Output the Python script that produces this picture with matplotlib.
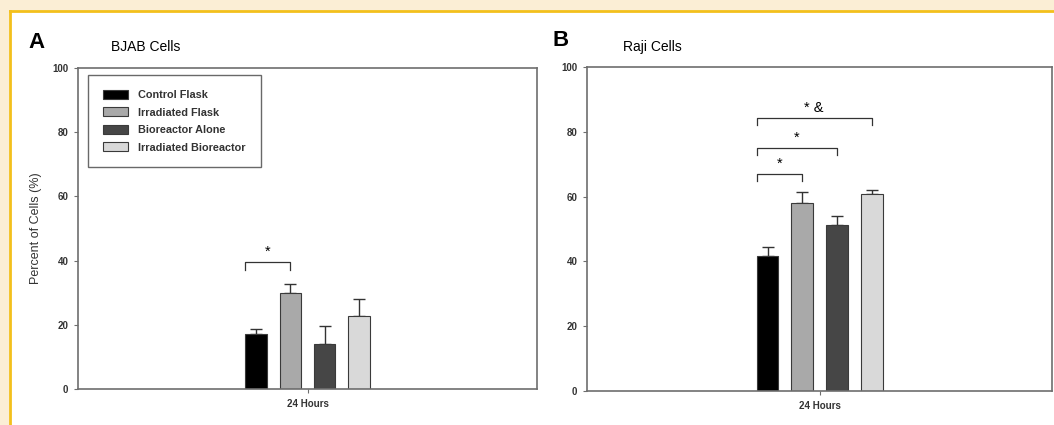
import numpy as np
import matplotlib
matplotlib.use("Agg")
import matplotlib.pyplot as plt
from matplotlib.patches import Rectangle
from matplotlib.lines import Line2D

plt.rcParams['font.family'] = ['Liberation Sans', 'DejaVu Sans']

# data
groups = ['Control Flask', 'Irradiated Flask', 'Bioreactor Alone', 'Irradiated Bioreactor']
colors = ['#000000', '#a9a9a9', '#464646', '#d9d9d9']
timepoint = ['24 Hours']
bjab_mean = [17.1, 30.0, 13.9, 22.7]
bjab_err = [1.6, 2.7, 5.7, 5.2]
raji_mean = [41.7, 57.9, 51.1, 60.8]
raji_err = [2.8, 3.5, 3.0, 1.2]

# significance brackets: (from bar, to bar, bracket top, text)
bjab_sig = [(0, 1, 39.5, '*')]
raji_sig = [(0, 1, 67.0, '*'), (0, 2, 75.0, '*'), (0, 3, 84.3, '* &')]

fig = plt.figure(figsize=(10.54, 4.25), dpi=100)
fig.patch.set_facecolor('white')

# journal frame: cream strip top and left with yellow rule
cream = '#fbeed5'
gold = '#f3c01c'
fig.patches.append(Rectangle((0, 1 - 11 / 425), 1, 11 / 425, transform=fig.transFigure,
                             facecolor=cream, edgecolor='none', zorder=0))
fig.patches.append(Rectangle((0, 0), 10 / 1054, 1, transform=fig.transFigure,
                             facecolor=cream, edgecolor='none', zorder=0))
fig.lines.append(Line2D([10 / 1054, 1], [1 - 11 / 425, 1 - 11 / 425], transform=fig.transFigure,
                        color=gold, lw=2))
fig.lines.append(Line2D([10 / 1054, 10 / 1054], [0, 1 - 11 / 425], transform=fig.transFigure,
                        color=gold, lw=2))

axA = fig.add_axes([0.074, 0.0847, 0.4355, 0.7553])
axB = fig.add_axes([0.557, 0.080, 0.4412, 0.7624])

pos = np.arange(4) - 1.5
width = 0.63


def draw_panel(ax, mean, err, sig):
    for i in range(4):
        ax.bar(pos[i], mean[i], width, color=colors[i], edgecolor='#3a3a3a', lw=0.8,
               label=groups[i], zorder=2)
        ax.errorbar(pos[i], mean[i], yerr=[[0], [err[i]]], fmt='none', ecolor='#333333',
                    elinewidth=1, capsize=4, capthick=1, zorder=1)
    for a, b, top, txt in sig:
        x0 = pos[a] - width / 2
        x1 = pos[b]
        ax.plot([x0, x0, x1, x1], [top - 2.3, top, top, top - 2.3], color='#333333', lw=0.9)
        ax.text((x0 + x1) / 2, top + 1.0, txt, ha='center', va='bottom', fontsize=10.5)
    ax.set_xlim(-6.7, 6.7)
    ax.set_ylim(0, 100)
    ax.set_yticks([0, 20, 40, 60, 80, 100])
    ax.set_xticks([0])
    ax.set_xticklabels(timepoint)
    for s in ax.spines.values():
        s.set_color('#6e6e6e')
        s.set_linewidth(1.2)
    ax.tick_params(axis='both', direction='out', length=3, width=0.8, color='#6e6e6e',
                   labelsize=7, pad=4)
    for lbl in ax.get_xticklabels() + ax.get_yticklabels():
        lbl.set_fontweight('bold')
        lbl.set_color('#333333')


draw_panel(axA, bjab_mean, bjab_err, bjab_sig)
draw_panel(axB, raji_mean, raji_err, raji_sig)

axA.set_ylabel('Percent of Cells (%)', fontsize=9, color='#333333', labelpad=7)

leg = axA.legend(loc='upper left', bbox_to_anchor=(0.022, 0.978), borderaxespad=0,
                 fontsize=7.8, frameon=True, fancybox=False, handlelength=2.3,
                 handleheight=0.9, labelspacing=0.68, borderpad=1.35, handletextpad=1.0)
leg.get_frame().set_edgecolor('#444444')
leg.get_frame().set_linewidth(1.0)
for t in leg.get_texts():
    t.set_fontweight('bold')
    t.set_color('#333333')

fig.text(28 / 1054, 1 - 43 / 425, 'A', fontsize=16, fontweight='bold', va='center', ha='left')
fig.text(111 / 1054, 1 - 47 / 425, 'BJAB Cells', fontsize=10, va='center', ha='left')
fig.text(553 / 1054, 1 - 41 / 425, 'B', fontsize=16, fontweight='bold', va='center', ha='left')
fig.text(623 / 1054, 1 - 47 / 425, 'Raji Cells', fontsize=10, va='center', ha='left')

fig.savefig('out.png', dpi=100)
